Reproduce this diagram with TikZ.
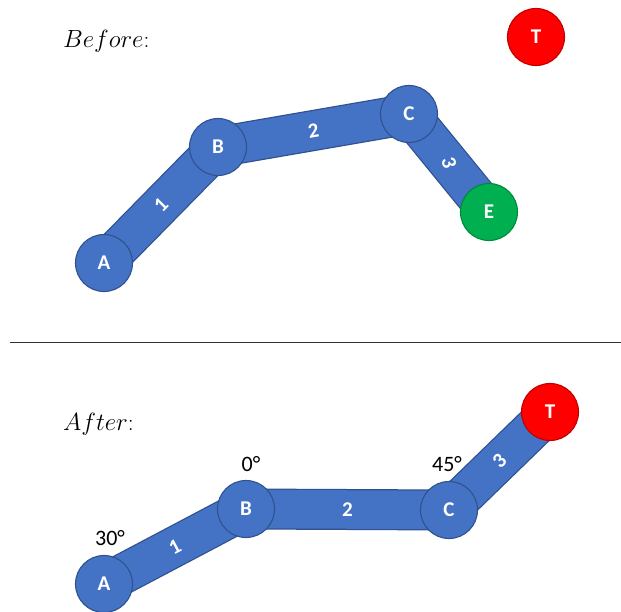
\documentclass[tikz,border=0pt]{standalone}
\usepackage{fontspec}
\newfontfamily\labelfont{Carlito}
\usetikzlibrary{backgrounds}
\definecolor{jointblue}{HTML}{4472C4}
\definecolor{jointedge}{HTML}{2F528F}
\definecolor{targetred}{HTML}{FF0000}
\definecolor{targetedge}{HTML}{C00000}
\definecolor{effgreen}{HTML}{00B050}
\definecolor{effedge}{HTML}{00883C}
\tikzset{
  joint/.style={circle, fill=jointblue, draw=jointedge, line width=1.1pt,
    minimum size=57pt, inner sep=0pt, text=white, font=\labelfont\bfseries\fontsize{21}{23}\selectfont},
  target/.style={joint, fill=targetred, draw=targetedge},
  effector/.style={joint, fill=effgreen, draw=effedge},
  linkedge/.style={draw=jointedge, line width=41pt},
  linkbody/.style={draw=jointblue, line width=38.5pt},
  linklabel/.style={midway, sloped, text=white, font=\labelfont\bfseries\fontsize{21}{23}\selectfont},
  anglelabel/.style={font=\labelfont\fontsize{22}{24}\selectfont, text=black},
  heading/.style={anchor=base west, font=\fontsize{23.5}{26}\selectfont, inner sep=0pt}
}
\begin{document}
\begin{tikzpicture}[x=1pt, y=-1pt]
\useasboundingbox (0,0) rectangle (621,612);

% ---- configuration before solving ----
\node[heading] (before) at (63,48) {$Before$:};
\node[target] (T1) at (536,37) {T};
\node[joint] (A1) at (104,263) {A};
\node[joint] (B1) at (218,147) {B};
\node[joint] (C1) at (409,114) {C};
\node[effector] (E1) at (489,212) {E};
\begin{scope}[on background layer]
  \foreach \p/\q in {A1/B1, B1/C1, C1/E1} {
    \draw[linkedge] (\p.center) -- (\q.center);
    \draw[linkbody] (\p.center) -- (\q.center);
  }
\end{scope}
\path (A1) -- node[linklabel] (l11) {1} (B1);
\path (B1) -- node[linklabel] (l12) {2} (C1);
\path (C1) -- node[midway, text=white, rotate=-75,
  font=\labelfont\bfseries\fontsize{21}{23}\selectfont] (l13) {3} (E1);

% ---- separator ----
\coordinate (sepL) at (10,342);
\coordinate (sepR) at (621,342);
\draw[line width=0.9pt, black!80] (sepL) -- (sepR);

% ---- configuration after solving ----
\node[heading] (after) at (63,430) {$After$:};
\node[joint] (A2) at (104,584) {A};
\node[joint] (B2) at (246,509) {B};
\node[joint] (C2) at (449,510) {C};
\node[target] (T2) at (550,412) {T};
\begin{scope}[on background layer]
  \foreach \p/\q in {A2/B2, B2/C2, C2/T2} {
    \draw[linkedge] (\p.center) -- (\q.center);
    \draw[linkbody] (\p.center) -- (\q.center);
  }
\end{scope}
\path (A2) -- node[linklabel] (l21) {1} (B2);
\path (B2) -- node[linklabel] (l22) {2} (C2);
\path (C2) -- node[linklabel] (l23) {3} (T2);

\node[anglelabel] (angA) at (110,538) {30°};
\node[anglelabel] (angB) at (251,464) {0°};
\node[anglelabel] (angC) at (447,464) {45°};
\end{tikzpicture}
\end{document}
